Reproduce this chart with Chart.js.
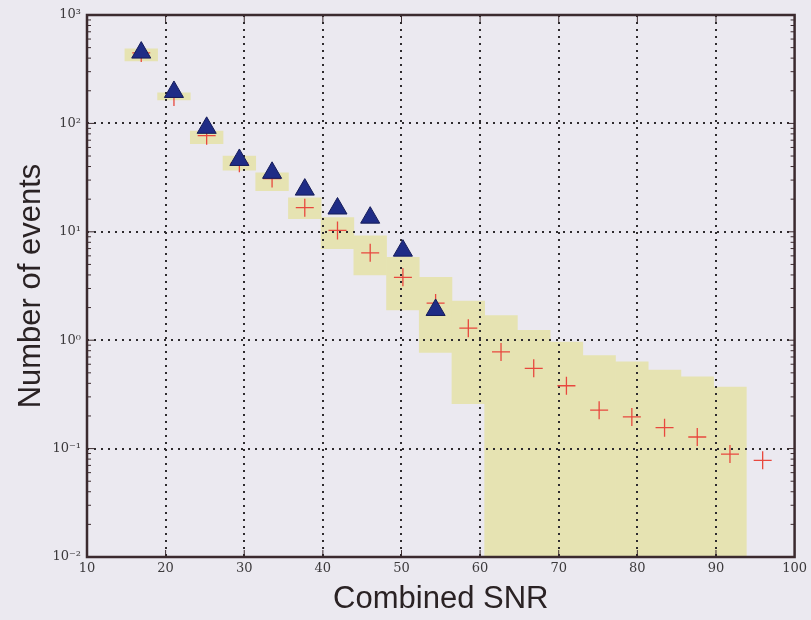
<!DOCTYPE html>
<html>
<head>
<meta charset="utf-8">
<title>Combined SNR</title>
<script src="https://cdn.jsdelivr.net/npm/chart.js@4.4.0/dist/chart.umd.min.js"></script>
<style>
  html, body { margin: 0; padding: 0; background: #ebe9f0; }
  #wrap { width: 811px; height: 620px; position: relative; }
</style>
</head>
<body>
<div id="wrap"><canvas id="snrChart"></canvas></div>
<script>
// bin centres on the Combined SNR axis
const binCentres = [16.9, 21.06, 25.22, 29.38, 33.54, 37.7, 41.86, 46.02, 50.18, 54.34,
                    58.5, 62.66, 66.82, 70.98, 75.14, 79.3, 83.46, 87.62, 91.78, 95.94];

// expected background (red crosses)
const expected = [447, 175, 77, 43, 31, 16.7, 10.3, 6.4, 3.8, 2.2,
                  1.29, 0.78, 0.55, 0.38, 0.226, 0.196, 0.156, 0.128, 0.089, 0.078];

// uncertainty band per bin (yellow boxes); 0.001 = band reaches below the axis
const bandLow  = [377, 165, 65, 37, 24, 13.2, 7.0, 4.0, 1.9, 0.77,
                  0.26, 0.001, 0.001, 0.001, 0.001, 0.001, 0.001, 0.001, 0.001, null];
const bandHigh = [487, 191, 85, 50, 35, 20.6, 13.5, 9.2, 5.8, 3.8,
                  2.3, 1.69, 1.23, 0.96, 0.72, 0.63, 0.53, 0.46, 0.37, null];

// observed events (blue triangles), first ten bins only
const observed = [450, 195, 91, 46, 35, 24.5, 16.4, 13.5, 6.7, 1.9];

const xTicks = [10, 20, 30, 40, 50, 60, 70, 80, 90, 100];
const yTicks = [0.01, 0.1, 1, 10, 100, 1000];
const yTickLabels = ['10\u207B\u00B2', '10\u207B\u00B9', '10\u2070', '10\u00B9', '10\u00B2', '10\u00B3'];

const GRID = '#2e2b2e';
const FRAME = '#3b2a2e';

// grid has to sit on top of the yellow boxes but under the markers
const gridOverBands = {
  id: 'gridOverBands',
  afterDatasetDraw(chart, args) {
    if (args.index !== 0) return;
    chart.scales.x.drawGrid(chart.chartArea);
    chart.scales.y.drawGrid(chart.chartArea);
  }
};

// box round the plot plus the small inner tick marks
const frame = {
  id: 'frame',
  afterDraw(chart) {
    const { ctx, chartArea: a, scales } = chart;
    ctx.save();
    ctx.strokeStyle = FRAME;
    ctx.lineWidth = 1;
    // minor ticks on the log axis
    for (let d = -2; d < 3; d++) {
      for (let m = 2; m <= 9; m++) {
        const y = scales.y.getPixelForValue(m * Math.pow(10, d));
        ctx.beginPath();
        ctx.moveTo(a.left, y); ctx.lineTo(a.left + 4, y);
        ctx.moveTo(a.right, y); ctx.lineTo(a.right - 4, y);
        ctx.stroke();
      }
    }
    yTicks.forEach(v => {
      const y = scales.y.getPixelForValue(v);
      ctx.beginPath();
      ctx.moveTo(a.left, y); ctx.lineTo(a.left + 7, y);
      ctx.moveTo(a.right, y); ctx.lineTo(a.right - 7, y);
      ctx.stroke();
    });
    xTicks.forEach(v => {
      const x = scales.x.getPixelForValue(v);
      ctx.beginPath();
      ctx.moveTo(x, a.bottom); ctx.lineTo(x, a.bottom - 7);
      ctx.moveTo(x, a.top); ctx.lineTo(x, a.top + 7);
      ctx.stroke();
    });
    ctx.lineWidth = 2.5;
    ctx.strokeRect(a.left, a.top, a.right - a.left, a.bottom - a.top);
    ctx.restore();
  }
};

const ctx = document.getElementById('snrChart');

new Chart(ctx, {
  type: 'bar',
  data: {
    datasets: [
      {
        type: 'bar',
        label: 'Background band',
        data: binCentres.map((x, i) => ({ x: x, y: bandLow[i] === null ? null : [bandLow[i], bandHigh[i]] })),
        backgroundColor: '#e6e3b2',
        borderWidth: 0,
        barPercentage: 1,
        categoryPercentage: 1,
        grouped: false,
        order: 3
      },
      {
        type: 'scatter',
        label: 'Expected',
        data: binCentres.map((x, i) => ({ x: x, y: expected[i] })),
        pointStyle: 'cross',
        pointRadius: 9,
        borderColor: '#e8483e',
        borderWidth: 1.3,
        order: 2
      },
      {
        type: 'scatter',
        label: 'Observed',
        data: observed.map((y, i) => ({ x: binCentres[i], y: y })),
        pointStyle: 'triangle',
        pointRadius: 11,
        backgroundColor: '#1f2c86',
        borderColor: '#151c58',
        borderWidth: 1,
        order: 1
      }
    ]
  },
  options: {
    responsive: true,
    maintainAspectRatio: false,
    animation: false,
    layout: {
      padding: { top: 15, right: 12, left: 0, bottom: 0 }
    },
    plugins: {
      legend: { display: false },
      tooltip: { enabled: false }
    },
    scales: {
      x: {
        type: 'linear',
        min: 10,
        max: 100,
        offset: false,
        afterBuildTicks: scale => { scale.ticks = xTicks.map(v => ({ value: v })); },
        afterFit: scale => { scale.height = 63; },
        border: { display: false, dash: [2, 5] },
        grid: {
          offset: false,
          color: c => (c.tick && (c.tick.value === 10 || c.tick.value === 100)) ? 'rgba(0,0,0,0)' : GRID,
          lineWidth: 2,
          drawTicks: false
        },
        ticks: {
          color: '#3c3a3c',
          padding: 4,
          maxRotation: 0,
          font: { family: 'DejaVu Serif', size: 13 }
        },
        title: {
          display: true,
          text: 'Combined SNR',
          color: '#2a2224',
          padding: { top: 0, bottom: 2 },
          font: { family: 'Liberation Sans', size: 31 }
        }
      },
      y: {
        type: 'logarithmic',
        min: 0.01,
        max: 1000,
        afterBuildTicks: scale => { scale.ticks = yTicks.map(v => ({ value: v })); },
        afterFit: scale => { scale.width = 87; },
        border: { display: false, dash: [2, 5] },
        grid: {
          offset: false,
          color: c => (c.tick && (c.tick.value === 0.01 || c.tick.value === 1000)) ? 'rgba(0,0,0,0)' : GRID,
          lineWidth: 2,
          drawTicks: false
        },
        ticks: {
          color: '#3c3a3c',
          padding: 6,
          font: { family: 'DejaVu Serif', size: 13 },
          callback: value => {
            const i = yTicks.indexOf(value);
            return i >= 0 ? yTickLabels[i] : '';
          }
        },
        title: {
          display: true,
          text: 'Number of events',
          color: '#2a2224',
          padding: { top: 13, bottom: 0 },
          font: { family: 'Liberation Sans', size: 31 }
        }
      }
    }
  },
  plugins: [gridOverBands, frame]
});
</script>
</body>
</html>
